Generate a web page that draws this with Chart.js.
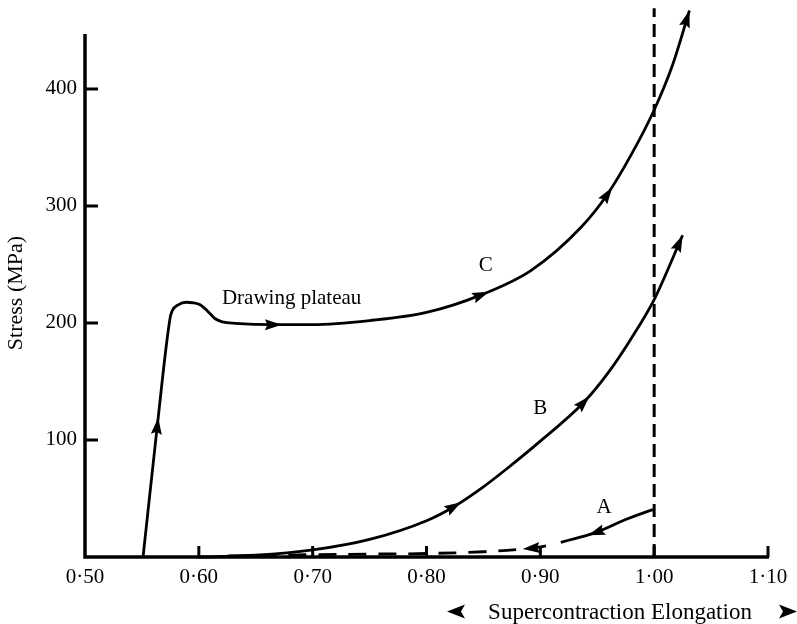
<!DOCTYPE html>
<html>
<head>
<meta charset="utf-8">
<script src="https://cdn.jsdelivr.net/npm/chart.js@4.4.1/dist/chart.umd.min.js"></script>
<style>
  html, body { margin: 0; padding: 0; background: #fff; }
  canvas { display: block; }
</style>
</head>
<body>
<canvas id="stressChart" width="797" height="624"></canvas>
<script>
// Curve C: elastic rise, yield bump, drawing plateau, then strain hardening
const cElong  = [0.551, 0.5635, 0.5748, 0.5766, 0.5819, 0.5889, 0.5951, 0.6012, 0.6056, 0.6100, 0.6144, 0.6206, 0.632, 0.6655, 0.70, 0.75, 0.80, 0.848, 0.892, 0.936, 0.959, 0.98, 1.00, 1.016, 1.031];
const cStress = [0, 112, 204.4, 210.4, 215.5, 217.7, 217.2, 215.5, 212.1, 207.8, 203.6, 201.0, 199.7, 198.5, 198.5, 202, 209, 224, 245, 282, 310, 344, 382, 420, 467];
const cArrowAt = [0.5635, 0.6655, 0.848, 0.959, 1.031];

// Curve B: from the supercontracted state
const bElong  = [0.60, 0.65, 0.70, 0.75, 0.80, 0.824, 0.85, 0.87, 0.90, 0.938, 0.96, 0.98, 1.00, 1.025];
const bStress = [0, 1.5, 6, 15, 31, 43, 60, 75, 99, 132, 158, 187, 220, 275];
const bArrowAt = [0.824, 0.938, 1.025];

// Curve A: release from 1.00 (solid part, then dashed contraction)
const aElong  = [0.9988, 0.975, 0.949, 0.918];
const aStress = [40.5, 32, 21, 12.5];
const aArrowAt = [0.949];
const aDashElong  = [0.905, 0.892, 0.85, 0.80, 0.75, 0.70, 0.65, 0.62];
const aDashStress = [9.5, 7.5, 4.5, 3, 2.5, 2, 1.2, 0.8];
const aDashArrowAt = [0.892];

// reference length marker
const refElong  = [1.00, 1.00];
const refStress = [0, 469];

const xTicks = [0.50, 0.60, 0.70, 0.80, 0.90, 1.00, 1.10];
const yTicks = [100, 200, 300, 400];
const yAxisTop = 447;

const notes = [
  { text: 'Drawing plateau', x: 0.6203, y: 216.4, align: 'left' },
  { text: 'C', x: 0.8521, y: 244.5, align: 'center' },
  { text: 'B', x: 0.8999, y: 122.5, align: 'center' },
  { text: 'A', x: 0.956, y: 37.8, align: 'center' }
];

const serif = '"Liberation Serif", "Times New Roman", serif';
const ink = '#000';

const pts = (xs, ys) => xs.map((x, i) => ({ x: x, y: ys[i] }));
const fmt = v => v.toFixed(2).replace('.', '\u00b7');

function arrowHead(ctx, x, y, ang, len, half) {
  ctx.save();
  ctx.translate(x, y);
  ctx.rotate(ang);
  ctx.beginPath();
  ctx.moveTo(0, 0);
  ctx.lineTo(-len, -half);
  ctx.lineTo(-len * 0.85, 0);
  ctx.lineTo(-len, half);
  ctx.closePath();
  ctx.fill();
  ctx.restore();
}

const decor = {
  id: 'decor',
  afterDatasetsDraw(chart) {
    const ctx = chart.ctx;
    ctx.save();
    ctx.fillStyle = ink;
    chart.data.datasets.forEach((ds, di) => {
      if (!ds.arrowAt) return;
      const pts = chart.getDatasetMeta(di).data;
      ds.arrowAt.forEach(xv => {
        const j = ds.data.findIndex(p => p.x === xv);
        if (j < 0) return;
        const p = pts[j];
        const last = j === pts.length - 1;
        let dx, dy;
        if (last) {
          const q = p.cp1x !== undefined ? { x: p.cp1x, y: p.cp1y } : pts[j - 1];
          dx = p.x - q.x; dy = p.y - q.y;
        } else if (p.cp1x !== undefined) {
          dx = p.cp2x - p.cp1x; dy = p.cp2y - p.cp1y;
        } else {
          dx = pts[j + 1].x - pts[j - 1].x; dy = pts[j + 1].y - pts[j - 1].y;
        }
        const ang = Math.atan2(dy, dx);
        const len = 17;
        const off = last ? 0 : len * 0.5;
        arrowHead(ctx, p.x + Math.cos(ang) * off, p.y + Math.sin(ang) * off, ang, len, 5.5);
      });
    });
    ctx.restore();
  },
  afterDraw(chart) {
    const ctx = chart.ctx;
    const xs = chart.scales.x, ys = chart.scales.y;
    const x0 = xs.getPixelForValue(xTicks[0]);
    const y0 = ys.getPixelForValue(0);
    ctx.save();
    ctx.strokeStyle = ink;
    ctx.fillStyle = ink;
    ctx.lineCap = 'butt';

    // axes
    ctx.lineWidth = 3.5;
    ctx.beginPath();
    ctx.moveTo(x0, ys.getPixelForValue(yAxisTop));
    ctx.lineTo(x0, y0);
    ctx.lineTo(xs.getPixelForValue(xTicks[xTicks.length - 1]) + 1, y0);
    ctx.stroke();

    // tick stubs, pointing into the plot
    ctx.lineWidth = 3;
    ctx.beginPath();
    xTicks.slice(1).forEach(v => {
      const px = xs.getPixelForValue(v);
      ctx.moveTo(px, y0);
      ctx.lineTo(px, y0 - 11);
    });
    yTicks.forEach(v => {
      const py = ys.getPixelForValue(v);
      ctx.moveTo(x0, py);
      ctx.lineTo(x0 + 13, py);
    });
    ctx.stroke();

    // axis titles
    ctx.save();
    ctx.font = '22px ' + serif;
    ctx.textAlign = 'center';
    ctx.textBaseline = 'middle';
    ctx.translate(16, 293);
    ctx.rotate(-Math.PI / 2);
    ctx.fillText('Stress (MPa)', 0, 0);
    ctx.restore();

    ctx.font = '23px ' + serif;
    ctx.textAlign = 'center';
    ctx.textBaseline = 'alphabetic';
    ctx.fillText('Supercontraction Elongation', 620, 618.5);
    // direction arrows either side of the title
    ctx.beginPath();
    ctx.moveTo(447, 611.5); ctx.lineTo(465, 604.5); ctx.lineTo(461, 611.5); ctx.lineTo(465, 618.5);
    ctx.closePath();
    ctx.moveTo(797, 611.5); ctx.lineTo(779, 604.5); ctx.lineTo(783, 611.5); ctx.lineTo(779, 618.5);
    ctx.closePath();
    ctx.fill();

    // curve labels
    ctx.font = '21px ' + serif;
    notes.forEach(n => {
      ctx.textAlign = n.align;
      ctx.fillText(n.text, xs.getPixelForValue(n.x), ys.getPixelForValue(n.y));
    });
    ctx.restore();
  }
};

const lineBase = { borderColor: ink, borderWidth: 2.8, pointRadius: 0, fill: false, clip: false };

new Chart(document.getElementById('stressChart'), {
  type: 'line',
  data: {
    datasets: [
      Object.assign({}, lineBase, { label: 'ref', data: pts(refElong, refStress), borderDash: [13, 7], borderWidth: 3, tension: 0 }),
      Object.assign({}, lineBase, { label: 'C', data: pts(cElong, cStress), cubicInterpolationMode: 'monotone', arrowAt: cArrowAt }),
      Object.assign({}, lineBase, { label: 'B', data: pts(bElong, bStress), cubicInterpolationMode: 'monotone', arrowAt: bArrowAt }),
      Object.assign({}, lineBase, { label: 'A', data: pts(aElong, aStress), tension: 0.4, arrowAt: aArrowAt }),
      Object.assign({}, lineBase, { label: 'A dashed', data: pts(aDashElong, aDashStress), tension: 0.4, borderDash: [18, 12], arrowAt: aDashArrowAt })
    ]
  },
  options: {
    responsive: false,
    animation: false,
    layout: { padding: { top: 7, right: 29, left: 0, bottom: 0 } },
    plugins: { legend: { display: false }, tooltip: { enabled: false } },
    scales: {
      x: {
        type: 'linear', min: 0.5, max: 1.1,
        grid: { display: false, drawTicks: false },
        border: { display: false },
        afterBuildTicks: s => { s.ticks = xTicks.map(v => ({ value: v })); },
        afterFit: s => { s.height = 67; },
        ticks: { padding: 8, color: ink, maxRotation: 0, autoSkip: false, font: { family: serif, size: 21 }, callback: v => fmt(v) }
      },
      y: {
        type: 'linear', min: 0, max: 470,
        grid: { display: false, drawTicks: false },
        border: { display: false },
        afterBuildTicks: s => { s.ticks = yTicks.map(v => ({ value: v })); },
        afterFit: s => { s.width = 85; s.paddingTop = 0; s.paddingBottom = 0; },
        ticks: { padding: 8, color: ink, font: { family: serif, size: 21 }, callback: v => String(v) }
      }
    }
  },
  plugins: [decor]
});
</script>
</body>
</html>
